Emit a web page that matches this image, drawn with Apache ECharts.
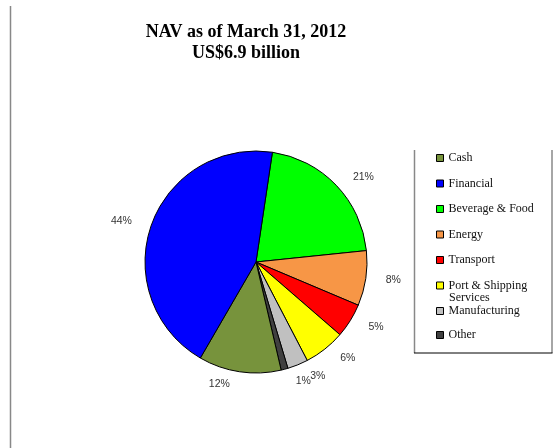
<!DOCTYPE html>
<html>
<head>
<meta charset="utf-8">
<script src="https://cdn.jsdelivr.net/npm/echarts@6/dist/echarts.min.js"></script>
<style>html,body{margin:0;padding:0;background:#fff;}#c{width:554px;height:448px;}</style>
</head>
<body>
<div id="c"></div>
<script>
// Slices in clockwise drawing order (from the top)
const categories = ['Beverage & Food', 'Energy', 'Transport', 'Port & Shipping Services', 'Manufacturing', 'Other', 'Cash', 'Financial'];
const values = [21, 8, 5, 6, 3, 1, 12, 44];
const colors = ['#00FF00', '#F79646', '#FF0000', '#FFFF00', '#C0C0C0', '#404040', '#77933C', '#0000FF'];
const legendOrderA = ['Cash', 'Financial', 'Beverage & Food', 'Energy', 'Transport', 'Port & Shipping Services'];
const legendOrderB = ['Manufacturing', 'Other'];
const titleText = 'NAV as of March 31, 2012\nUS$6.9 billion';

const chart = echarts.init(document.getElementById('c'));
const legendText = { fontFamily: 'Liberation Serif', fontSize: 12, color: '#111', lineHeight: 12 };
const iconStyle = { borderColor: '#000', borderWidth: 1 };
chart.setOption({
  animation: false,
  backgroundColor: '#fff',
  title: {
    text: titleText,
    left: 241, top: 17, textAlign: 'center',
    textStyle: { fontFamily: 'Liberation Serif', fontWeight: 'bold', fontSize: 18, lineHeight: 21, color: '#000' }
  },
  legend: [{
    orient: 'vertical', left: 436, top: 152, padding: 0, itemGap: 13.5, itemTextGap: 4,
    itemWidth: 7, itemHeight: 7, icon: 'rect', itemStyle: iconStyle,
    data: legendOrderA,
    formatter: n => n === 'Port & Shipping Services' ? 'Port & Shipping' : n,
    textStyle: legendText, selectedMode: false
  }, {
    orient: 'vertical', left: 436, top: 305, padding: 0, itemGap: 12, itemTextGap: 4,
    itemWidth: 7, itemHeight: 7, icon: 'rect', itemStyle: iconStyle,
    data: legendOrderB, textStyle: legendText, selectedMode: false
  }],
  graphic: [
    { type: 'line', shape: { x1: 10.5, y1: 6, x2: 10.5, y2: 448 }, style: { stroke: '#888', lineWidth: 1.5 } },
    { type: 'line', shape: { x1: 414.5, y1: 150, x2: 414.5, y2: 353 }, style: { stroke: '#888', lineWidth: 1.5 } },
    { type: 'line', shape: { x1: 552, y1: 150, x2: 552, y2: 353 }, style: { stroke: '#888', lineWidth: 1.5 } },
    { type: 'line', shape: { x1: 414, y1: 353, x2: 552.5, y2: 353 }, style: { stroke: '#000', lineWidth: 1 } },
    { type: 'text', left: 449, top: 291.5, style: { text: 'Services', fontFamily: 'Liberation Serif', fontSize: 12, fill: '#111' } }
  ],
  series: [{
    type: 'pie',
    center: [256, 262],
    radius: 111,
    startAngle: 81.5,
    clockwise: true,
    avoidLabelOverlap: false,
    labelLayout: { hideOverlap: false },
    data: categories.map((n, i) => ({ name: n, value: values[i], itemStyle: { color: colors[i] } })),
    itemStyle: { borderColor: '#000', borderWidth: 1 },
    label: { show: true, position: 'outside', formatter: '{c}%', fontFamily: 'Liberation Sans', fontSize: 10.5, color: '#333' },
    labelLine: { show: false, length: 12, length2: 3 },
    emphasis: { disabled: true }
  }]
});
</script>
</body>
</html>
